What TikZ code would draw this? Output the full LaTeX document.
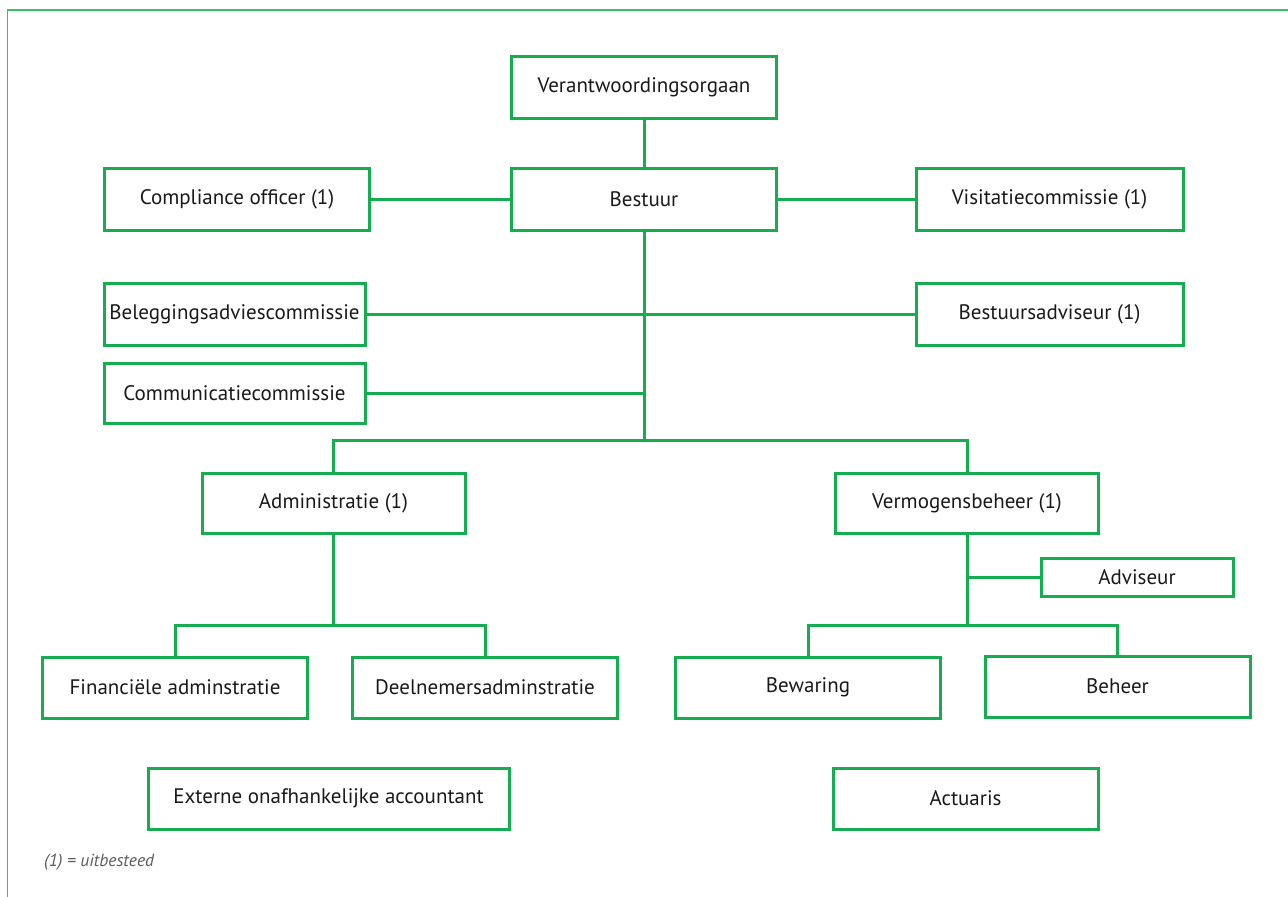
\documentclass[tikz,border=0pt]{standalone}
\usepackage{fontspec}
\setmainfont{PT Sans}
\definecolor{orggreen}{RGB}{22,173,80}
\definecolor{framegreen}{RGB}{60,190,100}
\definecolor{notegray}{RGB}{90,90,90}
\tikzset{
  orgbox/.style={draw=orggreen, line width=3pt, minimum width=265pt, minimum height=62pt,
    inner sep=0pt, font=\fontsize{21}{25}\selectfont, text=black!90},
  link/.style={draw=orggreen, line width=3pt}
}
\begin{document}
\begin{tikzpicture}[x=1pt, y=-1pt, line cap=butt, line join=miter]
			\useasboundingbox (0,0) rectangle (1288,897);
			% outer frame, open at the right and the bottom
			\draw[framegreen, line width=1.6pt] (7.5,897) -- (7.5,10) -- (1288,10);
			% top
			\node[orgbox] (verant) at (644,87) {Verantwoordingsorgaan};
			\node[orgbox] (bestuur) at (644,199.5) {Bestuur};
			\node[orgbox] (compliance) at (237,199.5) {Compliance officer (1)};
			\node[orgbox, minimum width=267pt] (visitatie) at (1049.5,199.5) {Visitatiecommissie (1)};
			\node[orgbox, minimum width=261pt] (beleg) at (234.5,314.5) {Beleggingsadviescommissie};
			\node[orgbox, minimum width=267pt] (bestadv) at (1049.5,314.5) {Bestuursadviseur (1)};
			\node[orgbox, minimum width=261pt, minimum height=60pt] (commun) at (234.5,393.5) {Communicatiecommissie};
			% middle
			\node[orgbox, minimum width=263pt, minimum height=60pt] (admin) at (333.5,503) {Administratie (1)};
			\node[orgbox, minimum width=263pt, minimum height=60pt] (vermogen) at (967,503) {Vermogensbeheer (1)};
			\node[orgbox, minimum width=192pt, minimum height=38pt] (adviseur) at (1137,577.5) {Adviseur};
			% bottom
			\node[orgbox, minimum height=61pt] (finadm) at (175,687.5) {Financiële adminstratie};
			\node[orgbox, minimum height=61pt] (deeln) at (485,687.5) {Deelnemersadminstratie};
			\node[orgbox, minimum height=61pt] (bewaring) at (808,687.5) {Bewaring};
			\node[orgbox, minimum height=61pt] (beheer) at (1117.5,686.5) {Beheer};
			\node[orgbox, minimum width=361pt, minimum height=61pt] (externe) at (328.5,798.5) {Externe onafhankelijke accountant};
			\node[orgbox, minimum height=61pt] (actuaris) at (965.5,798.5) {Actuaris};
			% split points
			\coordinate (split) at (644,440.5);
			\coordinate (asplit) at (333.5,625);
			\coordinate (vsplit) at (967,625);
			% connectors
			\draw[link] (verant) -- (bestuur);
			\draw[link] (compliance) -- (bestuur);
			\draw[link] (bestuur) -- (visitatie);
			\draw[link] (bestuur.south) -- (split);
			\draw[link] (beleg.east) -- (bestadv.west);
			\draw[link] (commun.east) -- (commun.east -| split);
			\draw[link] (admin.north) |- (split) -| (vermogen.north);
			\draw[link] (admin.south) -- (asplit);
			\draw[link] (finadm.north) |- (asplit) -| (deeln.north);
			\draw[link] (vermogen.south) -- (vsplit);
			\draw[link] (bewaring.north) |- (vsplit) -| (beheer.north);
			\draw[link] (adviseur.west) -- (adviseur.west -| vsplit);
			% footnote
			\node[anchor=west, inner sep=0pt, text=notegray, font=\fontsize{17.5}{21}\selectfont\itshape] (note) at (44,862) {(1) = uitbesteed};
		\end{tikzpicture}
\end{document}
